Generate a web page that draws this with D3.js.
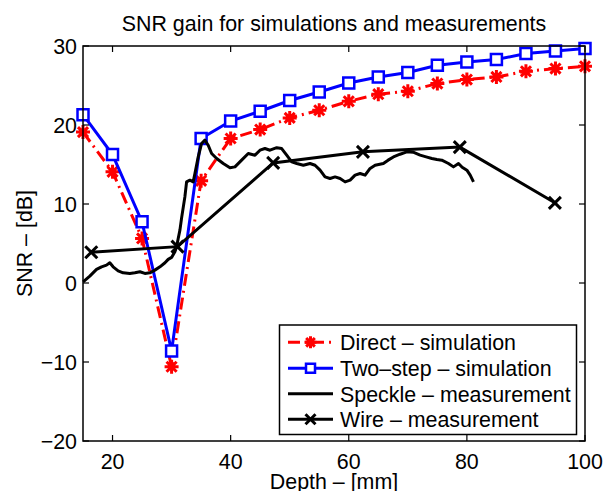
<!DOCTYPE html>
<html><head><meta charset="utf-8">
<script src="https://cdn.jsdelivr.net/npm/d3@7"></script>
<style>html,body{margin:0;padding:0;background:#fff;}svg{display:block;font-family:"Liberation Sans",Arial,Helvetica,sans-serif;}</style>
</head><body>
<svg id="chart" width="612" height="491"></svg>
<script>
const titleText = "SNR gain for simulations and measurements";
const xLabel = "Depth \u2013 [mm]";
const yLabel = "SNR \u2013 [dB]";
const xTicks = [20, 40, 60, 80, 100];
const yTicks = [-20, -10, 0, 10, 20, 30];
const seriesNames = ["Direct \u2013 simulation", "Two\u2013step \u2013 simulation", "Speckle \u2013 measurement", "Wire \u2013 measurement"];

const simDepth = [15, 20, 25, 30, 35, 40, 45, 50, 55, 60, 65, 70, 75, 80, 85, 90, 95, 100];
const directSim = [19.1, 14.07, 5.64, -10.6, 12.93, 18.29, 19.42, 20.9, 21.87, 23.0, 23.9, 24.27, 25.25, 25.75, 26.08, 26.8, 27.14, 27.43];
const twoStepSim = [21.3, 16.26, 7.74, -8.6, 18.29, 20.5, 21.74, 23.1, 24.18, 25.32, 26.08, 26.64, 27.56, 27.98, 28.28, 29.04, 29.37, 29.67];

const wireDepth = [16.4, 31.0, 47.2, 62.4, 78.8, 94.9];
const wireSNR = [3.9, 4.6, 15.2, 16.6, 17.2, 10.15];

const speckleDepth = [15.02, 16.15, 17.29, 18.14, 18.98, 19.54, 20.10, 20.95, 21.80, 22.93, 23.78, 24.64, 25.48, 26.32, 27.17, 28.03, 28.88, 29.42, 30.0, 30.56, 30.85, 31.12, 31.41, 31.69, 32.25, 32.54, 33.10, 33.66, 33.95, 34.51, 35.08, 35.64, 36.20, 36.78, 37.63, 38.75, 39.88, 40.73, 41.86, 42.98, 44.12, 44.97, 45.81, 46.66, 47.80, 48.64, 49.49, 50.34, 51.19, 52.31, 53.44, 54.29, 55.14, 55.98, 56.83, 57.68, 58.53, 59.38, 60.23, 61.07, 61.92, 62.77, 63.61, 64.46, 65.86, 66.66, 67.56, 68.69, 69.83, 70.9, 72.08, 73.1, 74.07, 74.92, 75.76, 76.88, 77.73, 78.58, 79.2, 80.0, 80.56, 81.12];
const speckleSNR = [0.15, 0.87, 1.72, 2.05, 2.26, 2.56, 2.05, 1.54, 1.29, 1.21, 1.29, 1.42, 1.21, 1.29, 1.63, 2.05, 2.56, 2.99, 3.24, 3.95, 4.58, 5.64, 6.69, 8.21, 10.9, 12.8, 13.02, 12.8, 13.86, 15.96, 17.66, 18.08, 17.44, 16.39, 15.76, 15.13, 14.6, 14.7, 15.55, 16.39, 16.18, 16.81, 17.02, 16.81, 17.13, 17.02, 16.18, 15.33, 15.13, 14.91, 15.13, 14.91, 14.28, 13.43, 13.23, 13.43, 13.23, 12.8, 13.02, 13.65, 13.86, 13.65, 14.5, 14.91, 15.13, 15.55, 15.96, 16.3, 16.6, 16.56, 16.18, 15.96, 15.76, 15.63, 15.55, 15.13, 14.7, 15.13, 14.66, 14.28, 13.65, 12.8];

const svg = d3.select("#chart");
const L = 83, R = 585, T = 46, B = 441;
const FS = 21.4;
const x = d3.scaleLinear().domain([15, 100]).range([L, R]);
const y = d3.scaleLinear().domain([-20, 30]).range([B, T]);

const RED = "#ff0000", BLUE = "#0000ff", BLACK = "#000000";

svg.append("rect").attr("x", L).attr("y", T).attr("width", R - L).attr("height", B - T).attr("fill", "#fff");

svg.append("clipPath").attr("id", "clip").append("rect").attr("x", L - 10).attr("y", T - 10).attr("width", R - L + 20).attr("height", B - T + 20);
const plot = svg.append("g").attr("clip-path", "url(#clip)");

function asterisk(r) {
  const d = r * 0.72;
  return `M${-r},0L${r},0M0,${-r}L0,${r}M${-d},${-d}L${d},${d}M${-d},${d}L${d},${-d}`;
}
function cross(r) {
  return `M${-r},${-r}L${r},${r}M${-r},${r}L${r},${-r}`;
}
function square(s) {
  return `M${-s},${-s}H${s}V${s}H${-s}Z`;
}

const line = d3.line().x(d => x(d[0])).y(d => y(d[1]));

const directData = simDepth.map((d, i) => [d, directSim[i]]);
plot.append("path").attr("d", line(directData)).attr("fill", "none").attr("stroke", RED)
  .attr("stroke-width", 3).attr("stroke-dasharray", "12,5,2,5");
plot.selectAll(".ast").data(directData).enter().append("path")
  .attr("transform", d => `translate(${x(d[0])},${y(d[1])})`)
  .attr("d", asterisk(7)).attr("stroke", RED).attr("stroke-width", 3).attr("fill", "none");

const twoData = simDepth.map((d, i) => [d, twoStepSim[i]]);
plot.append("path").attr("d", line(twoData)).attr("fill", "none").attr("stroke", BLUE).attr("stroke-width", 3);
plot.selectAll(".sq").data(twoData).enter().append("path")
  .attr("transform", d => `translate(${x(d[0])},${y(d[1])})`)
  .attr("d", square(5.5)).attr("stroke", BLUE).attr("stroke-width", 2.5).attr("fill", "#fff");

const speckleData = speckleDepth.map((d, i) => [d, speckleSNR[i]]);
plot.append("path").attr("d", line(speckleData)).attr("fill", "none").attr("stroke", BLACK)
  .attr("stroke-width", 3).attr("stroke-linejoin", "round");

const wireData = wireDepth.map((d, i) => [d, wireSNR[i]]);
plot.append("path").attr("d", line(wireData)).attr("fill", "none").attr("stroke", BLACK).attr("stroke-width", 3);
plot.selectAll(".cx").data(wireData).enter().append("path")
  .attr("transform", d => `translate(${x(d[0])},${y(d[1])})`)
  .attr("d", cross(6)).attr("stroke", BLACK).attr("stroke-width", 3).attr("fill", "none");

const axG = svg.append("g");
axG.append("rect").attr("x", L).attr("y", T).attr("width", R - L).attr("height", B - T)
  .attr("fill", "none").attr("stroke", BLACK).attr("stroke-width", 1.5);
const TL = 6;
xTicks.forEach(t => {
  axG.append("line").attr("x1", x(t)).attr("x2", x(t)).attr("y1", B).attr("y2", B - TL).attr("stroke", BLACK).attr("stroke-width", 1.2);
  axG.append("line").attr("x1", x(t)).attr("x2", x(t)).attr("y1", T).attr("y2", T + TL).attr("stroke", BLACK).attr("stroke-width", 1.2);
  axG.append("text").attr("x", x(t)).attr("y", B + 28).attr("text-anchor", "middle")
    .attr("font-size", FS).text(t);
});
yTicks.forEach(t => {
  axG.append("line").attr("x1", L).attr("x2", L + TL).attr("y1", y(t)).attr("y2", y(t)).attr("stroke", BLACK).attr("stroke-width", 1.2);
  axG.append("line").attr("x1", R).attr("x2", R - TL).attr("y1", y(t)).attr("y2", y(t)).attr("stroke", BLACK).attr("stroke-width", 1.2);
  axG.append("text").attr("x", L - 6).attr("y", y(t)).attr("dy", "0.36em").attr("text-anchor", "end")
    .attr("font-size", FS).text(t < 0 ? "\u2212" + Math.abs(t) : t);
});

svg.append("text").attr("x", (L + R) / 2).attr("y", 31).attr("text-anchor", "middle").attr("font-size", FS).text(titleText);
svg.append("text").attr("x", (L + R) / 2).attr("y", 489).attr("text-anchor", "middle").attr("font-size", FS).text(xLabel);
svg.append("text").attr("transform", `translate(32,${(T + B) / 2}) rotate(-90)`).attr("text-anchor", "middle").attr("font-size", FS).text(yLabel);

const lg = svg.append("g");
lg.append("rect").attr("x", 279.5).attr("y", 325).attr("width", 297).attr("height", 109.5)
  .attr("fill", "#fff").attr("stroke", BLACK).attr("stroke-width", 1.5);
const rowY = [342.3, 368.2, 393.8, 419.3];
const lx1 = 288, lx2 = 333, lmx = 310.5;
const legendStyles = [
  { stroke: RED, dash: "12,5,2,5", marker: asterisk(6), mw: 3, fill: "none", mstroke: RED },
  { stroke: BLUE, dash: null, marker: square(4.5), mw: 2.5, fill: "#fff", mstroke: BLUE },
  { stroke: BLACK, dash: null, marker: null },
  { stroke: BLACK, dash: null, marker: cross(5), mw: 3, fill: "none", mstroke: BLACK }
];
seriesNames.forEach((name, i) => {
  const s = legendStyles[i];
  const ln = lg.append("line").attr("x1", lx1).attr("x2", lx2).attr("y1", rowY[i]).attr("y2", rowY[i])
    .attr("stroke", s.stroke).attr("stroke-width", 3);
  if (s.dash) ln.attr("stroke-dasharray", s.dash);
  if (s.marker) lg.append("path").attr("transform", `translate(${lmx},${rowY[i]})`).attr("d", s.marker)
    .attr("stroke", s.mstroke).attr("stroke-width", s.mw).attr("fill", s.fill);
  lg.append("text").attr("x", 340).attr("y", rowY[i]).attr("dy", "0.36em").attr("font-size", FS).text(name);
});
</script>
</body></html>
